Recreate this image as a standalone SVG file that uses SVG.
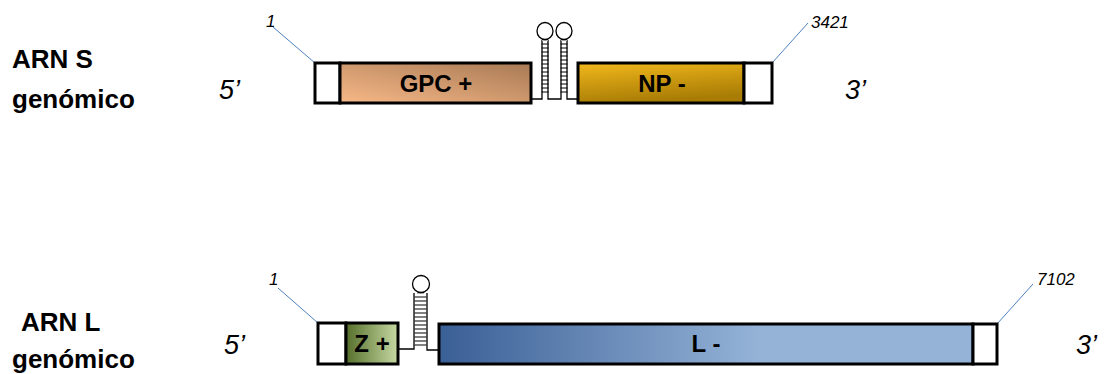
<svg xmlns="http://www.w3.org/2000/svg" width="1109" height="374" viewBox="0 0 1109 374">
<style>
.lbl{font-family:"Liberation Sans",Arial,sans-serif;font-weight:bold;font-size:26px;fill:#000}
.end{font-family:"Liberation Sans",Arial,sans-serif;font-style:italic;font-size:27px;fill:#000}
.num{font-family:"Liberation Sans",Arial,sans-serif;font-style:italic;font-size:17px;fill:#000}
.gene{font-family:"Liberation Sans",Arial,sans-serif;font-weight:bold;font-size:24px;fill:#000;text-anchor:middle}
.box{stroke:#000;stroke-width:3}
.utr{fill:#fff;stroke:#000;stroke-width:3}
.lead{stroke:#4f81bd;stroke-width:1;fill:none}
.strand{stroke:#000;stroke-width:1.3;fill:none}
.rung{stroke:#000;stroke-width:1}
.loop{fill:#fff;stroke:#000;stroke-width:1.3}
</style>
<defs>
<linearGradient id="gGPC" x1="0" y1="1" x2="1" y2="0">
<stop offset="0" stop-color="#f7b887"/><stop offset="1" stop-color="#a87a55"/>
</linearGradient>
<linearGradient id="gNP" x1="0" y1="0" x2="0.3" y2="1">
<stop offset="0" stop-color="#f2b81c"/><stop offset="1" stop-color="#a87c05"/>
</linearGradient>
<linearGradient id="gZ" x1="0" y1="0" x2="1" y2="0">
<stop offset="0" stop-color="#56702c"/><stop offset="1" stop-color="#c6d9a2"/>
</linearGradient>
<linearGradient id="gL" x1="0" y1="0" x2="1" y2="0">
<stop offset="0" stop-color="#3a5f96"/><stop offset="0.6" stop-color="#95b3d7"/><stop offset="1" stop-color="#95b3d7"/>
</linearGradient>
<g id="ladder">
<line class="rung" x1="0" y1="0" x2="7" y2="0"/>
<line class="rung" x1="0" y1="4" x2="7" y2="4"/>
<line class="rung" x1="0" y1="8" x2="7" y2="8"/>
<line class="rung" x1="0" y1="12" x2="7" y2="12"/>
<line class="rung" x1="0" y1="16" x2="7" y2="16"/>
<line class="rung" x1="0" y1="20" x2="7" y2="20"/>
<line class="rung" x1="0" y1="24" x2="7" y2="24"/>
<line class="rung" x1="0" y1="28" x2="7" y2="28"/>
<line class="rung" x1="0" y1="32" x2="7" y2="32"/>
<line class="rung" x1="0" y1="36" x2="7" y2="36"/>
<line class="rung" x1="0" y1="40" x2="7" y2="40"/>
<line class="rung" x1="0" y1="44" x2="7" y2="44"/>
<line class="rung" x1="0" y1="48" x2="7" y2="48"/>
</g>
</defs>

<g id="labels">
<text class="lbl" x="12" y="68">ARN S</text>
<text class="lbl" x="12" y="108">genómico</text>
<text class="lbl" x="21" y="331">ARN L</text>
<text class="lbl" x="12" y="368">genómico</text>
<text class="end" x="219" y="99">5’</text>
<text class="end" x="845" y="99">3’</text>
<text class="end" x="224" y="354">5’</text>
<text class="end" x="1076" y="354">3’</text>
</g>

<g id="connectors">
<line class="lead" x1="273" y1="27" x2="315" y2="63"/>
<line class="lead" x1="772" y1="63" x2="808" y2="23"/>
<line class="lead" x1="278" y1="288" x2="318" y2="323"/>
<line class="lead" x1="997" y1="324" x2="1033" y2="284"/>
<path class="strand" d="M531 99 H542 V40 M548 40 V99 H561 V40 M567 40 V99 H578"/>
<path class="strand" d="M398 349 H414 V293 M427 293 V350 H439"/>
</g>

<g id="numbers">
<text class="num" x="266" y="27">1</text>
<text class="num" x="811" y="28">3421</text>
<text class="num" x="269" y="285">1</text>
<text class="num" x="1037" y="285">7102</text>
</g>

<g id="hairpinS1">
<rect x="542" y="38" width="6" height="3" fill="#bbb"/>
<ellipse class="loop" cx="545" cy="31" rx="8" ry="8.5"/>
<use href="#ladder" x="541.5" y="44"/>
</g>
<g id="hairpinS2">
<rect x="561" y="38" width="6" height="3" fill="#bbb"/>
<ellipse class="loop" cx="564" cy="31" rx="8" ry="8.5"/>
<use href="#ladder" x="560.5" y="44"/>
</g>
<g id="hairpinL">
<rect x="417" y="291" width="7" height="3" fill="#bbb"/>
<ellipse class="loop" cx="421" cy="284" rx="8.5" ry="8.5"/>
<g transform="translate(414.5,297) scale(1.7,1)"><use href="#ladder"/></g>
</g>

<g id="S5utr"><rect class="utr" x="315" y="63" width="25" height="40"/></g>
<g id="GPC"><rect class="box" x="340" y="63" width="191" height="40" fill="url(#gGPC)"/><text class="gene" x="436" y="92">GPC +</text></g>
<g id="NP"><rect class="box" x="578" y="63" width="166" height="40" fill="url(#gNP)"/><text class="gene" x="662" y="92">NP -</text></g>
<g id="S3utr"><rect class="utr" x="744" y="63" width="28" height="40"/></g>

<g id="L5utr"><rect class="utr" x="318" y="323" width="28" height="41"/></g>
<g id="Z"><rect class="box" x="346" y="323" width="52" height="41" fill="url(#gZ)"/><text class="gene" x="372" y="352">Z +</text></g>
<g id="L"><rect class="box" x="439" y="324" width="534" height="40" fill="url(#gL)"/><text class="gene" x="706" y="352">L -</text></g>
<g id="L3utr"><rect class="utr" x="973" y="324" width="24" height="40"/></g>
</svg>
